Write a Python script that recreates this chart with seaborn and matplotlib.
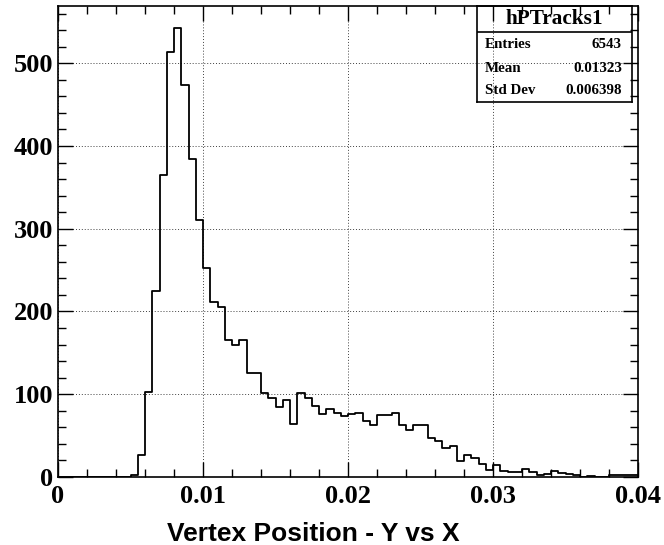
import numpy as np
import pandas as pd
import matplotlib
matplotlib.use("Agg")
import matplotlib.pyplot as plt
from matplotlib.ticker import MultipleLocator
import seaborn as sns

# Histogram contents: 80 bins spanning 0 .. 0.04
x_min, x_max, n_bins = 0.0, 0.04, 80
counts = [
    0, 0, 0, 0, 0, 0, 0, 0, 0, 0,
    3, 26, 103, 225, 365, 513, 542, 474, 384, 311,
    253, 211, 206, 166, 159, 165, 126, 126, 101, 95,
    84, 93, 64, 102, 95, 86, 76, 82, 77, 74,
    76, 77, 68, 63, 75, 75, 77, 63, 57, 63,
    63, 47, 44, 35, 37, 19, 26, 23, 16, 9,
    15, 7, 6, 6, 10, 6, 2, 4, 7, 5,
    4, 2, 0, 1, 0, 0, 2, 2, 2, 2,
]

x_ticks = [0.0, 0.01, 0.02, 0.03, 0.04]
x_tick_labels = ["0", "0.01", "0.02", "0.03", "0.04"]
y_ticks = [0, 100, 200, 300, 400, 500]
y_tick_labels = ["0", "100", "200", "300", "400", "500"]

x_title = "Vertex Position - Y vs X"
stats_title = "hPTracks1"
stats_names = ["Entries", "Mean", "Std Dev"]
stats_values = ["6543", "0.01323", "0.006398"]

edges = np.linspace(x_min, x_max, n_bins + 1)
centers = 0.5 * (edges[:-1] + edges[1:])
df = pd.DataFrame({"x": centers, "w": counts})

sns.set_style("white")
plt.rcParams["text.color"] = "black"
plt.rcParams["xtick.color"] = "black"
plt.rcParams["ytick.color"] = "black"
serif_bold = dict(family=["Liberation Serif", "DejaVu Serif"], weight="bold",
                  color="black")

W, H = 664, 545
fig = plt.figure(figsize=(W / 100, H / 100), dpi=100)
ax = fig.add_axes([58 / W, (H - 477) / H, 580 / W, 471 / H])

ax.grid(True, which="major", linestyle=(0, (1, 2)), color="black",
        linewidth=0.7, alpha=0.75)
ax.set_axisbelow(True)

sns.histplot(data=df, x="x", weights="w", bins=n_bins,
             binrange=(x_min, x_max), element="step",
             fill=False, color="black", linewidth=1.3, ax=ax)

ax.set_xlim(x_min, x_max)
ax.set_ylim(0, 1.05 * max(counts))
ax.set_xlabel("")
ax.set_ylabel("")

ax.set_xticks(x_ticks)
ax.set_xticklabels(x_tick_labels, fontdict=serif_bold, fontsize=19)
ax.set_yticks(y_ticks)
ax.set_yticklabels(y_tick_labels, fontdict=serif_bold, fontsize=19)
ax.xaxis.set_minor_locator(MultipleLocator(0.002))
ax.yaxis.set_minor_locator(MultipleLocator(20))

ax.tick_params(which="both", direction="in", top=True, right=True,
               bottom=True, left=True, color="black", labelcolor="black",
               width=1.0)
ax.tick_params(which="major", length=11, pad=3.5)
ax.tick_params(which="minor", length=5.5)
ax.tick_params(axis="x", which="major", pad=6)

for sp in ax.spines.values():
    sp.set_color("black")
    sp.set_linewidth(1.2)

fig.text(313 / W, (H - 541) / H, x_title, ha="center", va="baseline",
         fontsize=19, fontweight="bold", color="black",
         family=["Liberation Sans", "DejaVu Sans"])

# Statistics box in the upper right corner
bx0, by0, bx1, by1 = 476.7, 6.0, 631.7, 101.7
sax = fig.add_axes([bx0 / W, (H - by1) / H, (bx1 - bx0) / W, (by1 - by0) / H])
sax.patch.set_alpha(0.0)
sax.set_xticks([])
sax.set_yticks([])
sax.set_xlim(0, 1)
sax.set_ylim(0, 1)
for sp in sax.spines.values():
    sp.set_color("black")
    sp.set_linewidth(1.2)
sep = 1 - (31.7 - by0) / (by1 - by0)
sax.axhline(sep, color="black", linewidth=1.2)
sax.text(0.5, 1 - (18.5 - by0) / (by1 - by0), stats_title, ha="center",
         va="center", fontsize=15.3, **serif_bold)
row_y = [45, 69, 91]
for name, val, yy in zip(stats_names, stats_values, row_y):
    yf = 1 - (yy - by0) / (by1 - by0)
    sax.text(0.054, yf, name, ha="left", va="center", fontsize=10.8,
             **serif_bold)
    sax.text(0.936, yf, val, ha="right", va="center", fontsize=10.8,
             **serif_bold)

fig.savefig("out.png", dpi=100)
